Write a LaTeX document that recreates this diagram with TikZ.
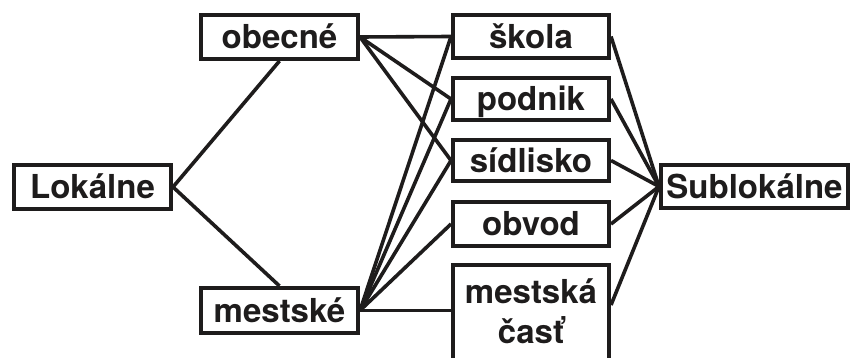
\documentclass[tikz,border=0pt]{standalone}
\usepackage{fontspec}
\setmainfont{TeX Gyre Heros}
\definecolor{ink}{RGB}{30,28,28}
\begin{document}
\begin{tikzpicture}[x=1pt,y=-1pt,
  lbl/.style={text=ink, font=\bfseries\fontsize{33}{40}\selectfont, inner sep=0pt},
  box/.style={lbl, draw=ink, line width=4pt, text height=23.8pt, text depth=0pt,
              minimum width=157pt, minimum height=44pt},
  wire/.style={draw=ink, line width=3.6pt}]
\useasboundingbox (0,0) rectangle (851,358);
\fill[white] (0,0) rectangle (851,358);
\clip (0,0) rectangle (851,358);

% left column
\node[box] (lok) at (92.5,187) {Lokálne};
\node[box] (obe) at (279.5,37) {obecné};
\node[box, minimum height=45pt] (mes) at (279.5,310.5) {mestské};

% middle column
\node[box, minimum width=156pt, minimum height=43pt] (sko) at (531,36.5) {škola};
\node[box, minimum width=156pt, minimum height=42pt] (pod) at (531,99) {podnik};
\node[box, minimum width=156pt, minimum height=41pt] (sid) at (531,160.5) {sídlisko};
\node[box, minimum width=156pt, minimum height=44pt] (obv) at (531,224) {obvod};
\node[box, minimum width=156pt, minimum height=130pt, anchor=north] (mc) at (531,263) {};
\node[lbl, align=center] (mct) at (531,311) {mestská\\časť};

% right column
\node[box, minimum width=187pt, minimum height=43pt] (sub) at (754.5,186.5) {Sublokálne};

\path (mc.north west) ++(0,47.5) coordinate (mcl);
\path (mc.north east) ++(0,42) coordinate (mcr);

% connectors
\draw[wire] (obe.south) -- (lok.east) -- (mes.north);
\foreach \t in {sko,pod,sid} \draw[wire] (obe.east) -- (\t.west);
\foreach \t in {sko,pod,sid,obv} \draw[wire] (mes.east) -- (\t.west);
\draw[wire] (mes.east) -- (mcl);
\foreach \s in {sko,pod,sid,obv} \draw[wire] (\s.east) -- (sub.west);
\draw[wire] (mcr) -- (sub.west);
\end{tikzpicture}
\end{document}
